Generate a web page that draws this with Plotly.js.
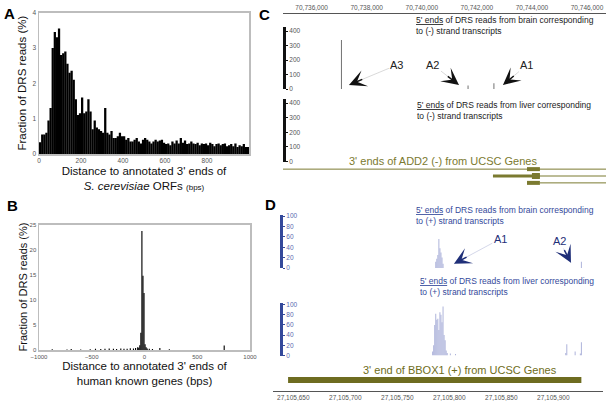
<!DOCTYPE html>
<html><head><meta charset="utf-8">
<script src="https://cdn.plot.ly/plotly-3.0.1.min.js"></script>
<style>html,body{margin:0;padding:0;background:#fff;}#chart{width:612px;height:404px;}</style>
</head><body><div id="chart"></div>
<script>
// ---------- Panel A: S. cerevisiae ----------
const aBinStart = [0,10,20,30,40,50,60,70,80,90,100,110,120,130,140,150,160,170,180,190,200,210,220,230,240,250,260,270,280,290,300,310,320,330,340,350,360,370,380,390,400,410,420,430,440,450,460,470,480,490,500,510,520,530,540,550,560,570,580,590,600,610,620,630,640,650,660,670,680,690,700,710,720,730,740,750,760,770,780,790,800,810,820,830,840,850,860,870,880,890,900,910,920,930,940,950,960,970,980,990];
const aFraction = [0.33,0.55,0.55,0.6,0.95,1.3,3.0,3.45,3.3,3.55,
2.8,2.85,2.9,2.55,2.3,2.35,2.1,1.55,1.1,1.15,
1.6,1.15,1.2,1.55,1.2,0.7,0.95,0.75,0.7,0.65,
0.6,1.3,0.6,0.55,0.65,0.45,0.45,0.5,0.6,0.5,
0.5,0.4,0.45,0.35,0.35,0.4,0.45,0.35,0.3,0.4,
0.45,0.4,0.35,0.3,0.35,0.4,0.35,0.38,0.4,0.32,
0.28,0.3,0.25,0.35,0.3,0.38,0.3,0.45,0.32,0.38,
0.28,0.3,0.35,0.3,0.28,0.32,0.25,0.3,0.28,0.3,
0.25,0.32,0.28,0.22,0.28,0.3,0.25,0.28,0.3,0.22,
0.25,0.28,0.22,0.3,0.2,0.25,0.22,0.28,0.2,0.2];
const aTicks = [0,200,400,600,800];

// ---------- Panel B: human ----------
const bBinStart = [-880,-740,-700,-610,-520,-470,-420,-380,-340,-300,-270,-230,-200,-170,-140,-110,-90,-70,-60,-50,-40,-30,-20,-10,0,10,20,40,70,140,230,750];
const bFraction = [0.2,0.15,0.25,0.15,0.2,0.3,0.25,0.3,0.35,0.3,0.25,0.35,0.3,0.3,0.4,0.35,0.45,0.6,0.5,1.0,3.5,23.7,14.8,11.4,1.2,0.6,0.35,0.3,0.25,0.45,0.2,0.95];
const bTicks = [-1000,-500,0,500,1000];

// ---------- Panel C: ADD2 locus ----------
const cRulerTicks = [70736000,70738000,70740000,70742000,70744000,70746000];
const cTrackTicks = [0,100,200,300,400];
const cBrainPos = [70737080,70741680,70742620];
const cBrainReads = [338,25,40];
const cLiverPos = [];
const cLiverReads = [];
const cArrowLabels = ['A3','A2','A1'];
const cArrowTipPos = [70737357,70741351,70742948];
const cArrowTipReads = [28,28,28];
const cArrowLabelPos = [70739099,70740407,70743820];
const cArrowLabelReads = [166,166,166];
const add2ThinRow = [1,2,3];
const add2ThinStart = [70734960,70744290,70744290];
const add2ThinEnd = [70746690,70746690,70746690];
const add2MidRow = [2];
const add2MidStart = [70742585];
const add2MidEnd = [70744290];
const add2BlockRow = [1,2,3];
const add2BlockStart = [70743820,70744000,70743820];
const add2BlockEnd = [70744290,70744290,70744290];

// ---------- Panel D: BBOX1 locus ----------
const dTrackTicks = [0,20,40,60,80,100];
const dBrainPos = [27105787,27105788,27105789,27105790,27105791,27105792,27105793,27105794,27105927];
const dBrainReads = [12,18,25,56,38,30,20,8,12];
const dLiverPos = [27105784,27105785,27105786,27105787,27105788,27105789,27105790,27105791,27105792,27105793,27105794,27105795,27105796,27105797,27105798,27105801,27105806,27105912,27105913,27105921,27105926,27105927];
const dLiverReads = [8,20,60,82,70,72,50,85,80,65,96,40,30,10,5,4,3,5,22,8,4,26];
const dArrowLabels = ['A1','A2'];
const dArrowTipPos = [27105804.5,27105917];
const dArrowTipReads = [8,10];
const dArrowLabelPos = [27105849,27105906];
const dArrowLabelReads = [56,52];
const bboxStart = [27105645];
const bboxEnd = [27105927];

// ---------- styling ----------
const FONT = 'Liberation Sans, Arial, sans-serif';
const OLIVE = '#7b7a30';
const OLIVE_D = '#6e6c20';
const BLUE = '#34499b';
const BAR_BLUE = '#a8aed8';
const W = 612, H = 404;
const px = v => v / W;
const py = v => 1 - v / H;

const cXRange = [70734960,70746690], cXDom = [283,606];
const cYRange = [0,428], cBrainDom = [89,27];
const dXRange = [27105630.5,27105947.8], dXDom = [273,603];
const dYRange = [0,102], dBrainDom = [268,215];

const traces = [];
traces.push({type:'bar', x:aBinStart, y:aFraction, width:10.8, offset:0, marker:{color:'#000', line:{width:0}}, xaxis:'x', yaxis:'y', hoverinfo:'skip'});
traces.push({type:'bar', x:bBinStart, y:bFraction, width:10.8, offset:0, marker:{color:'#000', line:{width:0}}, xaxis:'x2', yaxis:'y2', hoverinfo:'skip'});
traces.push({type:'bar', x:cBrainPos, y:cBrainReads, width:30, marker:{color:'#555', line:{width:0}}, xaxis:'x3', yaxis:'y3', hoverinfo:'skip'});
traces.push({type:'bar', x:cLiverPos, y:cLiverReads, width:30, marker:{color:'#555', line:{width:0}}, xaxis:'x3', yaxis:'y4', hoverinfo:'skip'});
add2ThinRow.forEach((r,i)=>traces.push({type:'scatter', mode:'lines', x:[add2ThinStart[i],add2ThinEnd[i]], y:[r,r], line:{color:OLIVE,width:1}, xaxis:'x3', yaxis:'y5', hoverinfo:'skip'}));
add2MidRow.forEach((r,i)=>traces.push({type:'scatter', mode:'lines', x:[add2MidStart[i],add2MidEnd[i]], y:[r,r], line:{color:OLIVE,width:3}, xaxis:'x3', yaxis:'y5', hoverinfo:'skip'}));
add2BlockRow.forEach((r,i)=>traces.push({type:'scatter', mode:'lines', x:[add2BlockStart[i],add2BlockEnd[i]], y:[r,r], line:{color:OLIVE,width:(r===2?6:4)}, xaxis:'x3', yaxis:'y5', hoverinfo:'skip'}));
traces.push({type:'bar', x:dBrainPos, y:dBrainReads, width:0.9, marker:{color:BAR_BLUE, line:{width:0}}, xaxis:'x4', yaxis:'y6', hoverinfo:'skip'});
traces.push({type:'bar', x:dLiverPos, y:dLiverReads, width:0.9, marker:{color:BAR_BLUE, line:{width:0}}, xaxis:'x4', yaxis:'y7', hoverinfo:'skip'});
bboxStart.forEach((s,i)=>traces.push({type:'scatter', mode:'lines', x:[s,bboxEnd[i]], y:[0,0], line:{color:OLIVE_D,width:6}, xaxis:'x4', yaxis:'y8', hoverinfo:'skip'}));

const tickF = {family:FONT, size:6.5, color:'#555'};
const titleF = {family:FONT, size:11.5, color:'#111'};
const frame = {showline:true, mirror:true, linecolor:'#bdbdbd', linewidth:1.5, showgrid:false, zeroline:false, ticks:'', fixedrange:true};
const dTickF = {family:FONT,size:6.5,color:'#5a6ab0'};

const layout = {
  width:W, height:H, margin:{l:0,r:0,t:0,b:0}, paper_bgcolor:'#fff', plot_bgcolor:'rgba(0,0,0,0)',
  showlegend:false, barmode:'overlay', font:{family:FONT},
  xaxis: Object.assign({}, frame, {domain:[px(39),px(249)], range:[0,1000], tickvals:aTicks, tickfont:tickF, anchor:'y',
    title:{text:"Distance to annotated 3' ends of<br><i>S. cerevisiae</i> ORFs <span style=\"font-size:8px\">(bps)</span>", font:titleF, standoff:3}}),
  yaxis: Object.assign({}, frame, {domain:[py(154),py(12.5)], range:[0,4], dtick:1, tickfont:tickF, anchor:'x'}),
  xaxis2: Object.assign({}, frame, {domain:[px(39),px(250)], range:[-1000,1000], tickvals:bTicks, tickfont:Object.assign({},tickF,{size:6}), anchor:'y2',
    title:{text:"Distance to annotated 3' ends of<br>human known genes (bps)", font:titleF, standoff:3}}),
  yaxis2: Object.assign({}, frame, {domain:[py(350.3),py(224.5)], range:[0,25], dtick:5, tickfont:Object.assign({},tickF,{size:6}), anchor:'x2'}),
  xaxis3: {domain:[px(cXDom[0]),px(cXDom[1])], range:cXRange, anchor:'free', position:py(13), side:'top', showline:true, linecolor:'#555', linewidth:1,
    tickvals:cRulerTicks, tickformat:',d', tickfont:tickF, ticks:'', showgrid:false, zeroline:false, fixedrange:true},
  yaxis3: {domain:[py(cBrainDom[0]),py(cBrainDom[1])], range:cYRange, anchor:'free', position:px(284), side:'right', showline:true, linecolor:'#111', linewidth:3,
    ticks:'outside', ticklen:2, tickwidth:1, tickcolor:'#111', tickvals:cTrackTicks, tickfont:tickF, showgrid:false, zeroline:false, fixedrange:true},
  yaxis4: {domain:[py(161.5),py(99)], range:cYRange, anchor:'free', position:px(284), side:'right', showline:true, linecolor:'#111', linewidth:3,
    ticks:'outside', ticklen:2, tickwidth:1, tickcolor:'#111', tickvals:cTrackTicks, tickfont:tickF, showgrid:false, zeroline:false, fixedrange:true},
  yaxis5: {domain:[py(187),py(165)], range:[3.6,0.4], anchor:'x3', visible:false, fixedrange:true},
  xaxis4: {domain:[px(dXDom[0]),px(dXDom[1])], range:dXRange, anchor:'free', position:py(391), side:'bottom', showline:true, linecolor:'#555', linewidth:1,
    tick0:27105650, dtick:50, tickformat:',d', tickfont:tickF, ticks:'', showgrid:false, zeroline:false, fixedrange:true},
  yaxis6: {domain:[py(dBrainDom[0]),py(dBrainDom[1])], range:dYRange, anchor:'free', position:px(281), side:'right', showline:true, linecolor:BLUE, linewidth:3,
    ticks:'outside', ticklen:2, tickwidth:1, tickcolor:BLUE, tickvals:dTrackTicks, tickfont:dTickF, showgrid:false, zeroline:false, fixedrange:true},
  yaxis7: {domain:[py(355.5),py(303)], range:[0,103], anchor:'free', position:px(281), side:'right', showline:true, linecolor:BLUE, linewidth:3,
    ticks:'outside', ticklen:2, tickwidth:1, tickcolor:BLUE, tickvals:dTrackTicks, tickfont:dTickF, showgrid:false, zeroline:false, fixedrange:true},
  yaxis8: {domain:[py(386),py(374)], range:[-1,1], anchor:'x4', visible:false, fixedrange:true},
  annotations: []
};

const ann = layout.annotations;
function panelLetter(t, x, y){ ann.push({text:'<b>'+t+'</b>', xref:'paper', yref:'paper', x:px(x), y:py(y), xanchor:'center', yanchor:'middle', showarrow:false, font:{family:FONT,size:15,color:'#000'}}); }
panelLetter('A', 9, 13); panelLetter('B', 12, 205); panelLetter('C', 264, 14); panelLetter('D', 270, 204);

// y-axis titles of panels A and B
ann.push({text:'Fraction of DRS reads (%)', xref:'paper', yref:'paper', x:px(22), y:py(83.5), xanchor:'center', yanchor:'middle', textangle:-90, showarrow:false, font:titleF});
ann.push({text:'Fraction of DRS reads (%)', xref:'paper', yref:'paper', x:px(22.5), y:py(287), xanchor:'center', yanchor:'middle', textangle:-90, showarrow:false, font:Object.assign({},titleF,{size:11})});

function note(t, x, y, color, size, xanchor){ ann.push({text:t, xref:'paper', yref:'paper', x:px(x), y:py(y), xanchor:xanchor||'left', yanchor:'middle', align:'left', showarrow:false, font:{family:FONT,size:size,color:color}}); }
note("<u>5' ends</u> of DRS reads from brain corresponding<br>to (-) strand transcripts", 414, 25.5, '#222', 8.5);
note("<u>5' ends</u> of DRS reads from liver corresponding<br>to (-) strand transcripts", 415, 110.5, '#222', 8.5);
note("3' ends of ADD2 (-) from UCSC Genes", 443, 160.5, OLIVE, 11, 'center');
note("<u>5' ends</u> of DRS reads from brain corresponding<br>to (+) strand transcripts", 414, 215, BLUE, 8.5);
note("<u>5' ends</u> of DRS reads from liver corresponding<br>to (+) strand transcripts", 418, 286, BLUE, 8.5);
note("3' end of BBOX1 (+) from UCSC Genes", 460, 370, OLIVE_D, 11, 'center');

// pixel-per-unit factors (used only to keep arrowhead length constant on screen)
function kx(range, dom){ return (dom[1]-dom[0])/(range[1]-range[0]); }
function ky(range, dom){ return (dom[0]-dom[1])/(range[1]-range[0]); }

function arrows(labels, tipX, tipY, labX, labY, xr, yr, sx, sy, lineColor, headColor, textColor){
  labels.forEach((lab,i)=>{
    ann.push({text:lab, xref:xr, yref:yr, axref:xr, ayref:yr, x:tipX[i], y:tipY[i], ax:labX[i], ay:labY[i],
      showarrow:true, arrowhead:0, arrowwidth:0.8, arrowcolor:lineColor, standoff:0, font:{family:FONT,size:11,color:textColor}});
    const dxp = (labX[i]-tipX[i])*sx, dyp = (labY[i]-tipY[i])*sy;
    const f = 16/Math.hypot(dxp, dyp);
    ann.push({text:'', xref:xr, yref:yr, axref:xr, ayref:yr, x:tipX[i], y:tipY[i],
      ax:tipX[i] + f*(labX[i]-tipX[i]), ay:tipY[i] + f*(labY[i]-tipY[i]),
      showarrow:true, arrowhead:3, arrowsize:1.9, arrowwidth:1.5, arrowcolor:headColor, standoff:0});
  });
}
arrows(cArrowLabels, cArrowTipPos, cArrowTipReads, cArrowLabelPos, cArrowLabelReads, 'x3', 'y3',
  kx(cXRange,cXDom), ky(cYRange,cBrainDom), '#cfcfcf', '#111', '#222');
arrows(dArrowLabels, dArrowTipPos, dArrowTipReads, dArrowLabelPos, dArrowLabelReads, 'x4', 'y6',
  kx(dXRange,dXDom), ky(dYRange,dBrainDom), '#c9cde3', '#1f2f78', '#1f2f78');

Plotly.newPlot('chart', traces, layout, {staticPlot:true, displayModeBar:false});
</script>
</body></html>
